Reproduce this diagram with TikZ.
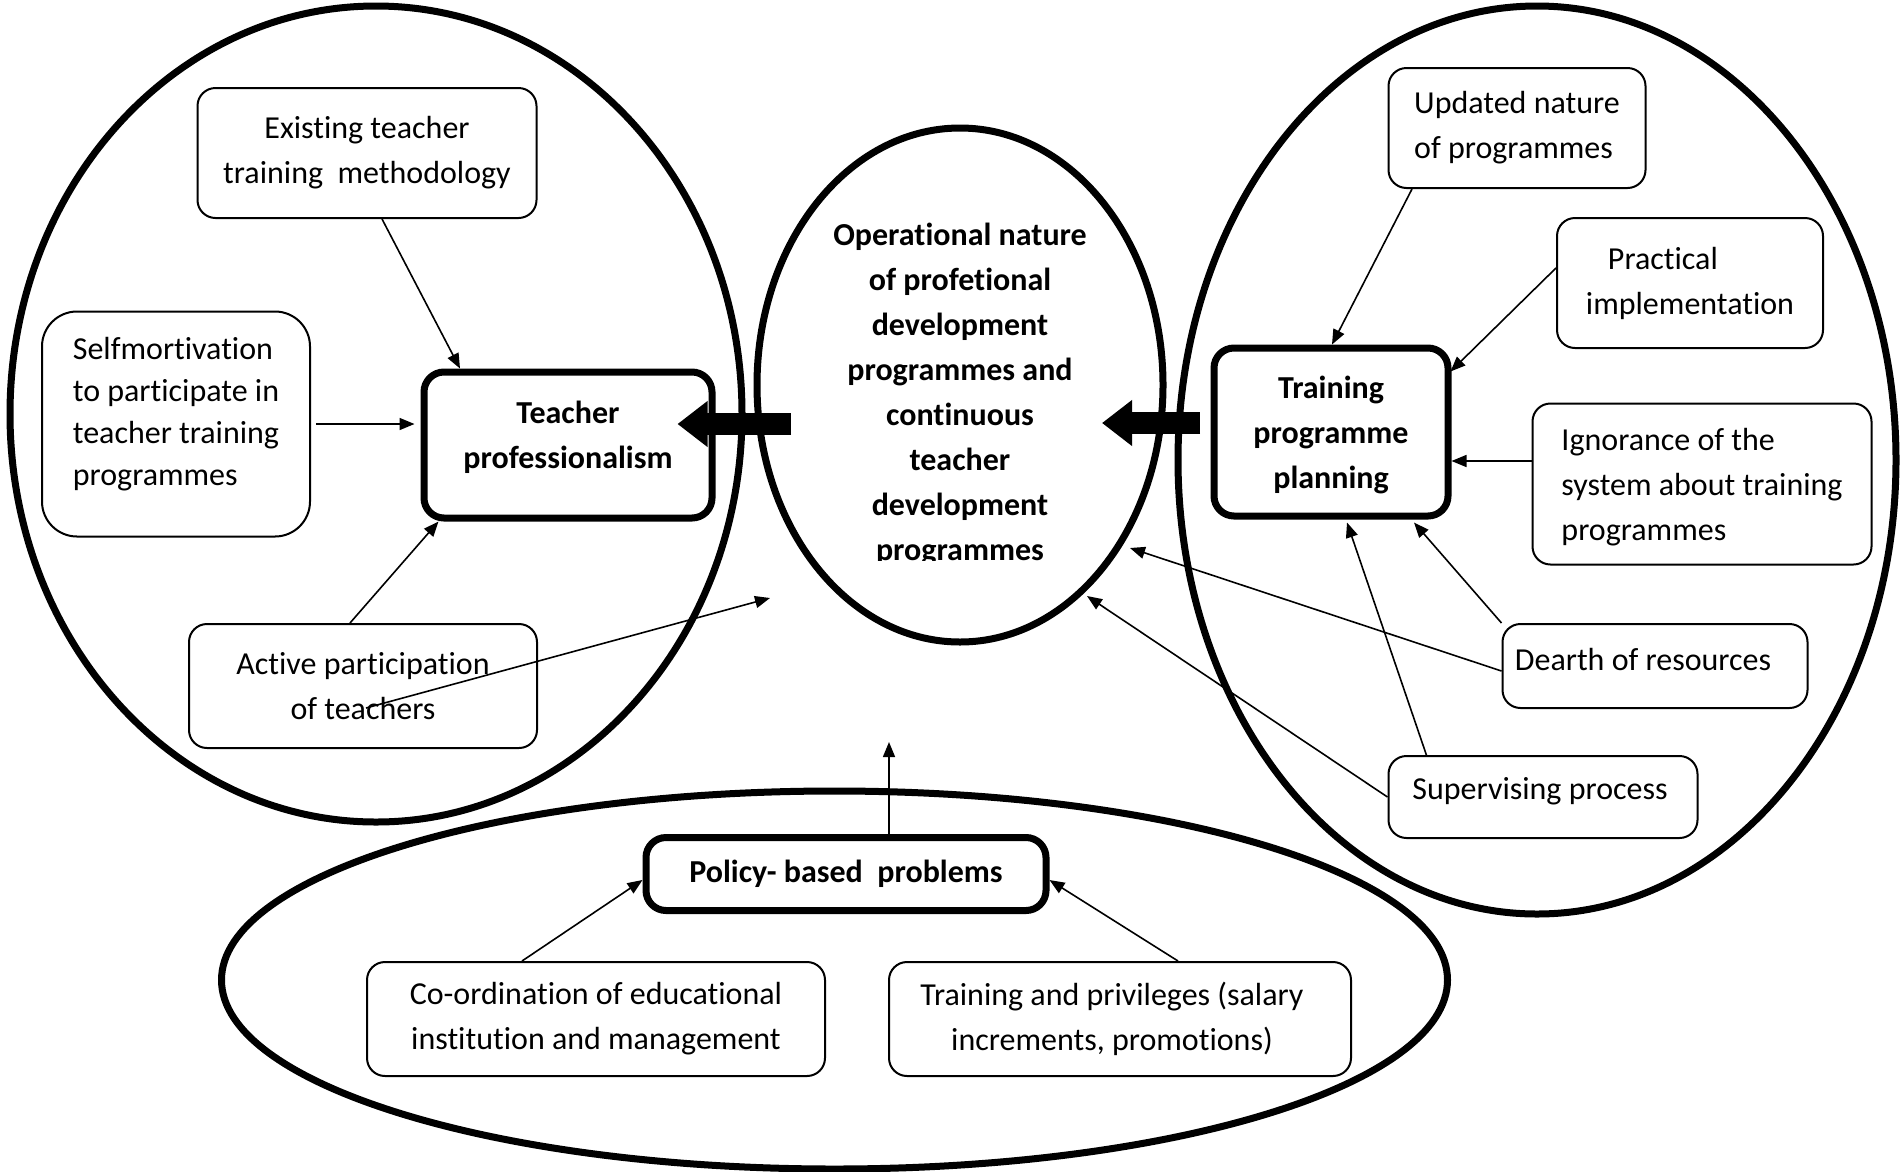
\documentclass[tikz,border=0pt]{standalone}
\usepackage{fontspec}
\setmainfont{Carlito}[Ligatures=NoCommon]
\usetikzlibrary{arrows.meta,calc,shapes.geometric}
\begin{document}
\begin{tikzpicture}[x=1pt,y=-1pt,
  every node/.style={font=\fontsize{32}{45}\selectfont},
  bigell/.style={draw, shape=ellipse, line width=7pt, inner sep=0pt},
  box/.style={draw, line width=2pt, rounded corners=18pt, fill=white, inner sep=0pt, align=center},
  mainbox/.style={draw, line width=7pt, rounded corners=20pt, fill=white, inner sep=0pt, align=center, font=\fontsize{32}{45}\selectfont\bfseries},
  arr/.style={line width=1.6pt, -{Triangle[length=15pt,width=12pt]}},
  fat/.style={line width=22pt, -{Triangle[length=30pt,width=44pt]}}]
\path[fill=white] (0,0) rectangle (1900,1171);
\useasboundingbox (0,0) rectangle (1900,1171);

% big ellipses
\node[bigell, minimum width=732pt, minimum height=816pt] (le) at (376,414) {};
\node[bigell, minimum width=406pt, minimum height=514pt] (ce) at (960,385) {};
\node[bigell, minimum width=718pt, minimum height=908pt] (re) at (1537,460) {};
\node[bigell, minimum width=1226pt, minimum height=378pt] (be) at (834.5,980) {};

% left group
\node[box, minimum width=339pt, minimum height=130pt] (ex) at (367,153) {Existing teacher\\training\ \ methodology};
\node[box, rounded corners=35pt, align=left, minimum width=268pt, minimum height=225pt, text depth=25pt, font=\fontsize{32}{42}\selectfont] (sm) at (176,424) {Selfmortivation\\to participate in\\teacher training\\programmes};
\node[mainbox, minimum width=288pt, minimum height=146pt, text depth=21pt] (tp) at (568,445) {Teacher\\professionalism};
\node[box, minimum width=348pt, minimum height=124pt] (act) at (363,686) {Active participation\\of teachers};

% right group
\node[box, align=left, minimum width=257pt, minimum height=120pt] (up) at (1517,128) {Updated nature\\of programmes};
\node[box, align=left, minimum width=266pt, minimum height=130pt] (pr) at (1690,283) {\hspace*{22pt}Practical\\implementation};
\node[mainbox, minimum width=234pt, minimum height=168pt, text depth=-4pt] (tpp) at (1331,432) {Training\\programme\\planning};
\node[box, align=left, minimum width=339pt, minimum height=161pt, text depth=-3.5pt] (ig) at (1702,484) {Ignorance of the\\system about training\\programmes};
\node[box, minimum width=305pt, minimum height=84pt, text depth=14pt] (dr) at (1655,666) {Dearth of resources\hspace*{24pt}};
\node[box, minimum width=309pt, minimum height=82pt, text depth=16.5pt] (sp) at (1543,797) {Supervising process\hspace*{6pt}};

% bottom group
\node[mainbox, minimum width=400pt, minimum height=73pt] (pol) at (846,874) {Policy-~based~~problems};
\node[box, minimum width=458pt, minimum height=114pt] (co) at (596,1019) {Co-ordination of educational\\institution and management};
\node[box, minimum width=462pt, minimum height=114pt] (trp) at (1120,1019) {Training and privileges (salary\hspace*{16pt}\\increments, promotions)\hspace*{16pt}};

% thin connectors, left
\draw[arr] ([xshift=15pt]ex.south) -- ([xshift=-108pt]tp.north);
\draw[arr] ([xshift=5pt]sm.east) -- ($(tp.west |- sm.east)+(-6,0)$);
\draw[arr] ([xshift=-13pt]act.north) -- ([xshift=-129.5pt]tp.south);
\coordinate (s1) at ($(act.center)+(3,22)$);
\coordinate (s2) at (770,598);
\draw[arr] (s1) -- (s2);

% thin connectors, right
\draw[arr] ([xshift=-105pt]up.south) -- ([xshift=1pt]tpp.north);
\draw[arr] ([yshift=15pt]pr.west) -- ($(tpp.north east)+(-1,27)$);
\draw[arr] ([yshift=23pt]ig.west) -- ($(tpp.east |- ig.west)+(0,-23)$);
\draw[arr] (dr.north west) -- ($(tpp.south)+(83,3)$);
\draw[arr] ([yshift=-5pt]dr.west) -- ($(ce.center)+(170,163)$);
\draw[arr] ([xshift=-116.6pt]sp.north) -- ($(tpp.south)+(16,3)$);
\draw[arr] (sp.west) -- ($(ce.center)+(127,211)$);

% thin connectors, bottom
\coordinate (pu) at (889,742);
\draw[arr] ([xshift=43pt]pol.north) -- (pu);
\draw[arr] ([xshift=-74pt]co.north) -- ([yshift=-6pt]pol.west);
\draw[arr] ([xshift=58pt]trp.north) -- ([yshift=-6pt]pol.east);

% centre text, clipped as in the original
\begin{scope}
\clip (700,150) rectangle (1220,560);
\node[align=center, font=\fontsize{32}{45}\selectfont\bfseries] (ct) at (960,394) {Operational nature\\of profetional\\development\\programmes and\\continuous\\teacher\\development\\programmes};
\end{scope}

% block arrows
\draw[fat] ($(ce.west)+(37.5,39)$) -- ($(tp.east)+(-38,-21)$);
\draw[fat] ($(tpp.west)+(-10.5,-9)$) -- ($(ce.east)+(-64.5,38)$);
\end{tikzpicture}
\end{document}
